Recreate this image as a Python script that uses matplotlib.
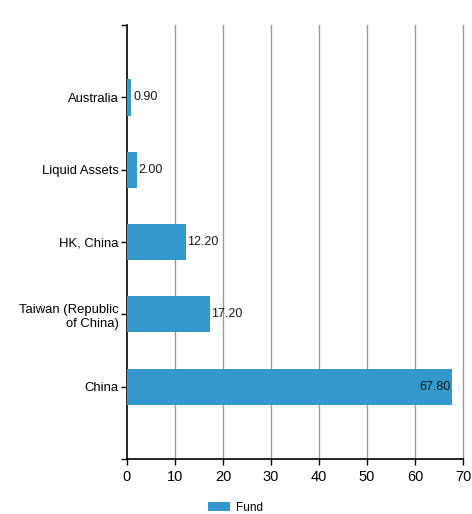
import matplotlib
matplotlib.use("Agg")
import matplotlib.pyplot as plt
from matplotlib.patches import Patch

# data, bottom to top
categories = ["China", "Taiwan (Republic\nof China)", "HK, China", "Liquid Assets", "Australia"]
values = [67.80, 17.20, 12.20, 2.00, 0.90]
series_name = "Fund"
xticks = [0, 10, 20, 30, 40, 50, 60, 70]

bar_color = "#3399cc"

plt.rcParams["font.family"] = ["Liberation Sans", "DejaVu Sans"]

fig = plt.figure(figsize=(4.72, 5.14), dpi=100)
ax = fig.add_axes([0.269, 0.107, 0.712, 0.844])

pos = list(range(len(categories)))
ax.barh(pos, values, height=0.5, color=bar_color, zorder=3)

for p, v in zip(pos, values):
    label = "%.2f" % v
    if v > 60:
        ax.text(v - 0.3, p, label, ha="right", va="center", fontsize=9, color="#1a1a1a", zorder=4)
    else:
        ax.text(v + 0.4, p, label, ha="left", va="center", fontsize=9, color="#1a1a1a", zorder=4)

ax.set_xlim(0, 70)
ax.set_ylim(-1, 5)
ax.set_xticks(xticks)
ax.set_xticklabels([str(t) for t in xticks], fontsize=10.5)
ax.set_yticks(pos)
ax.set_yticklabels(categories, fontsize=9.4)
ax.set_yticks([-1, 5], minor=True)
ax.tick_params(axis="y", which="both", length=4, width=1, pad=2)
ax.tick_params(axis="x", length=4, width=1, pad=4)

# vertical grid lines, drawn unclipped so the one at 70 shows
for t in xticks[1:]:
    ax.axvline(t, color="#999999", linewidth=1, zorder=0, clip_on=False)
for s in ["top", "right"]:
    ax.spines[s].set_visible(False)
ax.spines["left"].set_linewidth(1.2)
ax.spines["bottom"].set_linewidth(1.2)

handles = [Patch(facecolor=bar_color, label=series_name)]
fig.legend(handles=handles, loc="upper left", bbox_to_anchor=(0.44, 0.024),
           frameon=False, fontsize=8.5, handlelength=1.9, handleheight=0.9,
           borderaxespad=0, borderpad=0, handletextpad=0.5)

fig.savefig("out.png", dpi=100)
